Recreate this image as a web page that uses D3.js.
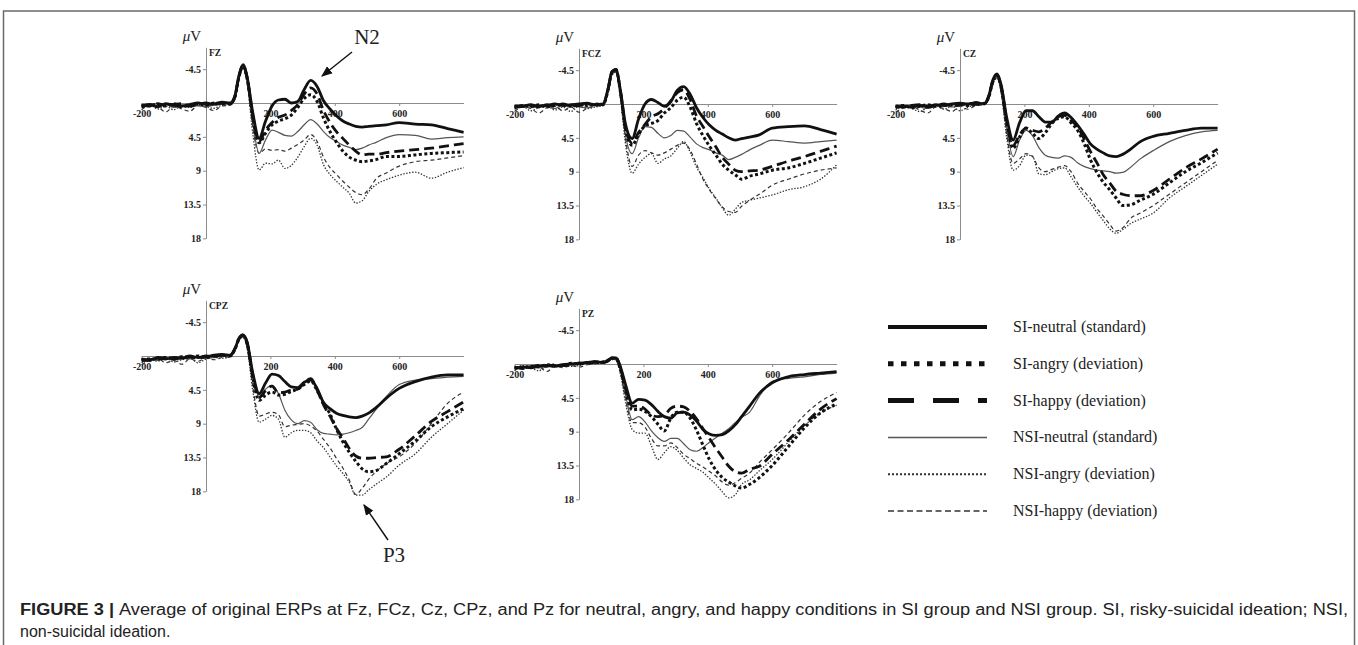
<!DOCTYPE html>
<meta charset="utf-8">
<title>ERP waveforms</title>
<style>
    body { margin: 0; background: #fff; }
    svg text { font-family: "Liberation Serif", "Times New Roman", serif; }
    .axis path, .axis line { stroke: #8c8c8c; stroke-width: 1px; }
    .axis text { font-weight: bold; font-size: 10px; fill: #222; }
    .erp { fill: none; stroke-linejoin: round; }
    .cap { font-family: "Liberation Sans", Arial, sans-serif; font-size: 16px; fill: #222; }
</style>
<script src="https://d3js.org/d3.v7.min.js"></script>
<body>
<script>
// sampling times (ms)
var times = [-200,-175,-150,-125,-100,-75,-50,-25,0,25,50,75,90,102,115,128,145,165,185,205,225,245,265,285,305,325,345,365,385,405,425,445,465,485,505,530,560,600,650,700,750,800];

var conditions = ["SI-neutral (standard)", "SI-angry (deviation)", "SI-happy (deviation)",
                  "NSI-neutral (standard)", "NSI-angry (deviation)", "NSI-happy (deviation)"];

var yTicks = [-4.5, 4.5, 9, 13.5, 18];
var xTicks = [-200, 200, 400, 600];

// amplitude in µV, one row per condition (same order as conditions)
var fzValues = [
    [0.4,0.2,0.5,0.1,0.3,0.4,0.2,0.0,0.2,0.1,-0.1,0.0, -1.0,-3.6,-5.1,-3.4,1.2,4.7,2.4,0.4,-0.4,-0.5,0.0,-0.2,-1.8,-3.0,-2.2,-0.3,0.8,1.7,2.4,2.8,3.1,3.2,3.1,3.0,2.9,2.6,2.8,2.9,3.4,3.9],
    [0.5,0.3,0.2,0.4,0.1,0.5,0.3,0.1,0.3,0.0,0.1,0.1, -0.8,-3.4,-4.9,-3.2,1.8,5.3,4.0,2.9,2.4,2.1,1.6,0.6,-0.6,-1.1,-0.2,2.0,3.8,5.2,6.4,7.2,7.6,7.8,7.7,7.5,7.1,7.1,6.9,6.7,6.6,6.5],
    [0.3,0.4,0.1,0.3,0.2,0.1,0.4,0.2,0.0,0.2,0.0,0.1, -0.9,-3.5,-5.0,-3.3,1.6,5.1,3.6,2.6,1.9,1.6,1.0,0.2,-1.2,-2.0,-1.2,1.0,2.6,3.8,4.7,5.6,6.4,6.9,6.8,6.8,6.6,6.4,6.2,6.0,5.7,5.4],
    [0.2,0.5,0.3,0.2,0.6,0.3,0.2,0.4,0.5,0.3,0.2,0.1, -0.7,-3.2,-4.8,-3.0,2.5,6.7,4.9,3.6,3.9,4.3,4.4,3.8,2.9,2.2,2.8,3.8,4.6,5.1,5.6,5.9,6.2,6.0,5.6,5.2,4.6,4.2,4.3,4.8,4.6,4.5],
    [0.6,0.2,0.8,0.4,0.9,0.3,0.6,0.2,0.5,0.7,0.3,0.2, -0.5,-3.0,-4.7,-2.6,4.0,8.9,8.0,8.1,7.6,8.7,8.3,7.2,5.8,4.7,5.6,8.2,9.5,10.4,11.2,12.0,13.3,13.0,11.8,10.8,10.2,9.6,9.2,10.0,9.2,8.6],
    [0.9,0.3,0.5,1.2,0.4,0.8,1.1,0.3,0.6,1.0,0.4,0.3, -0.6,-3.1,-4.7,-2.8,3.2,6.7,6.1,6.3,6.2,6.4,6.0,5.5,4.9,4.2,5.1,7.2,8.6,9.5,10.4,11.2,11.9,12.2,11.5,10.0,9.3,8.4,7.8,7.6,7.3,7.0]
];

var fczValues = [
    [0.4,0.3,0.1,0.3,0.2,0.0,0.2,0.1,0.0,-0.1,0.1,0.0, -2.0,-4.3,-4.6,-2.0,2.8,4.6,2.0,0.0,-0.6,-0.2,0.3,-0.3,-1.8,-2.3,-1.3,0.5,1.8,2.8,3.5,4.0,4.5,4.8,4.6,4.4,4.1,3.2,3.0,2.9,3.4,4.0],
    [0.5,0.2,0.3,0.1,0.4,0.2,0.1,0.3,0.1,0.2,0.0,0.1, -1.8,-4.1,-4.5,-1.8,3.5,5.5,4.0,2.9,2.6,2.2,1.2,0.5,-0.5,-0.9,0.4,2.6,4.2,5.6,6.8,8.0,8.8,9.4,10.0,9.6,9.3,8.8,8.5,7.9,7.2,6.5],
    [0.3,0.3,0.2,0.4,0.1,0.3,0.0,0.2,0.2,0.0,0.1,0.0, -1.9,-4.2,-4.6,-1.9,3.2,5.2,3.8,2.7,1.7,1.3,0.6,-0.4,-1.5,-1.9,-0.6,1.6,3.0,4.4,5.7,7.1,8.0,8.8,9.0,8.9,8.8,8.3,7.6,7.0,6.3,5.6],
    [0.2,0.4,0.5,0.2,0.3,0.6,0.2,0.3,0.4,0.5,0.2,0.1, -1.7,-4.0,-4.4,-1.5,4.3,6.6,4.5,3.0,3.1,3.9,4.5,4.2,3.5,3.6,4.4,5.3,5.8,6.1,6.5,6.8,7.4,7.1,6.7,6.1,5.5,4.8,5.0,5.2,5.0,4.8],
    [0.7,0.3,0.9,0.5,0.2,0.8,0.4,1.0,0.3,0.6,0.4,0.2, -1.5,-3.8,-4.2,-1.0,5.5,9.2,8.0,7.1,6.6,7.9,7.3,6.9,5.9,5.0,6.4,8.4,9.8,11.3,12.5,13.8,14.8,14.0,13.1,12.8,12.5,12.1,11.4,11.0,10.0,8.1],
    [1.0,0.4,0.6,1.2,0.5,0.3,0.9,0.4,1.1,0.6,0.3,0.2, -1.6,-3.9,-4.3,-1.2,4.8,8.3,6.8,6.2,6.5,6.8,6.5,6.0,5.5,5.2,6.1,8.0,10.0,11.4,12.6,13.7,14.3,14.4,13.6,12.8,12.0,10.8,10.0,9.3,8.8,8.5]
];

var czValues = [
    [0.5,0.3,0.4,0.2,0.3,0.1,0.2,0.0,-0.1,0.0,-0.2,0.0, -1.2,-3.2,-4.0,-2.5,1.8,4.8,2.5,0.9,0.9,1.7,2.4,2.4,1.6,1.2,1.8,2.8,4.0,5.3,6.0,6.5,6.9,7.0,6.7,6.0,5.0,4.3,3.9,3.5,3.2,3.2],
    [0.4,0.2,0.5,0.3,0.1,0.3,0.2,0.1,0.0,0.2,0.0,-0.1, -1.0,-3.0,-3.8,-2.2,2.5,5.9,4.4,3.2,3.9,4.6,3.8,2.6,1.9,1.7,2.5,3.5,5.2,7.4,9.1,10.4,11.4,12.5,13.5,13.4,12.8,12.0,10.5,9.0,7.8,6.5],
    [0.3,0.4,0.2,0.1,0.4,0.2,0.0,0.2,0.1,-0.1,0.0,0.0, -1.1,-3.1,-3.9,-2.3,2.2,5.5,4.1,3.2,3.5,3.7,3.2,2.4,1.7,1.5,2.2,3.0,4.6,6.3,7.8,9.4,10.5,11.6,12.0,12.2,12.2,11.5,10.0,8.5,7.3,6.0],
    [0.3,0.5,0.2,0.4,0.6,0.3,0.1,0.4,0.3,0.1,0.2,0.0, -0.9,-2.8,-3.7,-2.0,3.2,7.0,4.8,3.5,4.2,5.8,6.8,7.1,7.2,6.9,7.1,7.8,8.3,8.6,8.8,8.9,9.0,9.2,9.1,8.4,7.3,6.2,5.0,4.2,3.7,3.5],
    [0.8,0.3,0.6,1.0,0.4,0.2,0.7,0.3,0.9,0.4,0.1,0.0, -0.8,-2.6,-3.4,-1.4,4.5,8.8,8.2,6.8,6.9,9.3,9.4,9.0,8.6,8.5,9.7,11.0,12.2,13.2,14.4,15.5,16.6,17.2,16.7,15.9,15.3,14.5,12.5,11.0,9.5,8.0],
    [1.1,0.5,0.3,0.8,1.2,0.4,0.6,1.0,0.3,0.7,0.2,0.1, -0.8,-2.7,-3.5,-1.6,4.0,7.9,7.3,6.6,7.0,8.5,9.0,8.7,8.4,8.2,9.0,10.5,11.6,12.6,13.9,14.9,16.0,16.9,16.5,15.2,14.5,13.5,12.0,10.5,9.0,7.5]
];

var cpzValues = [
    [0.6,0.5,0.3,0.4,0.2,0.3,0.0,0.2,0.1,-0.1,-0.2,-0.1, -1.0,-2.3,-2.8,-1.8,2.2,5.0,3.6,2.4,2.6,3.4,4.1,4.2,3.5,3.2,4.3,6.2,7.0,7.6,7.9,8.1,8.2,8.0,7.6,6.8,5.6,4.3,3.4,2.8,2.5,2.5],
    [0.5,0.4,0.4,0.2,0.3,0.1,0.2,0.0,0.2,0.0,-0.1,0.0, -0.9,-2.2,-2.7,-1.6,2.8,5.9,5.2,4.8,5.2,5.1,4.7,4.4,3.8,3.3,4.6,6.3,7.7,9.7,11.4,12.8,14.0,15.0,15.4,15.2,14.3,13.0,11.3,9.4,8.1,7.0],
    [0.4,0.6,0.2,0.3,0.4,0.2,0.1,0.3,0.0,0.1,-0.1,-0.1, -1.0,-2.3,-2.8,-1.7,2.5,5.5,4.6,4.0,4.9,4.8,4.5,4.4,3.6,3.0,4.5,6.5,8.0,9.6,10.9,12.3,13.3,13.6,13.6,13.5,13.4,12.4,10.6,8.7,7.4,6.1],
    [0.3,0.4,0.6,0.2,0.5,0.3,0.4,0.1,0.3,0.2,0.0,-0.1, -0.9,-2.2,-2.7,-1.5,2.6,5.4,4.4,3.9,5.0,7.2,8.5,9.0,8.6,8.8,9.8,10.3,10.4,10.5,10.4,10.2,9.9,9.5,8.4,7.0,5.4,3.8,3.2,3.0,2.8,2.7],
    [0.9,0.4,0.7,0.2,0.8,0.5,0.3,0.9,0.4,0.2,0.3,0.1, -0.7,-2.0,-2.5,-1.0,4.5,8.8,8.4,7.9,8.4,10.8,10.2,9.9,9.9,10.2,11.3,12.2,13.4,14.6,15.6,16.8,18.5,18.5,17.8,17.0,16.1,14.5,13.0,10.8,9.0,7.2],
    [1.2,0.5,0.3,0.9,0.6,1.1,0.4,0.7,0.3,0.5,0.2,0.1, -0.8,-2.1,-2.6,-1.2,4.0,8.0,7.7,7.5,7.8,9.4,9.2,9.1,9.0,9.3,10.0,11.1,12.2,13.6,14.9,16.5,18.4,17.6,16.4,15.3,14.3,13.4,11.6,9.0,6.3,4.8]
];

var pzValues = [
    [0.6,0.4,0.5,0.3,0.2,0.3,0.1,0.0,-0.1,-0.2,-0.3,-0.2, -0.4,-0.8,-0.8,0.3,2.8,5.2,4.7,4.8,5.4,6.3,7.0,7.2,6.5,6.4,6.8,7.6,8.7,9.3,9.5,9.4,8.9,8.1,7.0,5.6,3.9,2.5,1.7,1.4,1.2,1.0],
    [0.5,0.5,0.3,0.4,0.1,0.2,0.2,-0.1,0.0,-0.2,-0.2,-0.3, -0.5,-0.8,-0.7,0.6,3.6,6.1,6.0,6.3,7.0,8.0,8.9,7.2,6.4,6.4,7.2,8.8,10.8,12.7,14.1,15.1,15.7,16.2,16.5,16.0,15.1,13.5,11.0,8.5,6.5,5.3],
    [0.4,0.6,0.4,0.2,0.3,0.1,0.2,0.1,-0.1,0.0,-0.3,-0.2, -0.5,-0.8,-0.8,0.4,3.2,5.6,5.6,6.0,6.8,7.0,6.8,5.9,5.6,5.7,6.3,7.3,8.6,9.9,11.2,12.4,13.6,14.3,14.5,14.0,13.6,12.0,10.1,8.0,6.0,4.6],
    [0.3,0.5,0.2,0.4,0.3,0.2,0.0,0.1,0.0,-0.1,-0.2,-0.2, -0.4,-0.7,-0.7,0.8,4.2,7.4,7.0,7.7,8.9,9.8,10.3,9.9,9.9,10.6,11.4,11.6,11.1,10.4,9.8,9.2,8.6,7.8,7.1,6.4,4.3,2.3,1.9,1.7,1.4,1.2],
    [0.7,0.2,0.5,0.9,0.3,0.4,0.1,0.3,0.2,-0.1,0.0,-0.2, -0.3,-0.6,-0.6,1.2,5.2,8.7,9.2,9.2,10.9,12.7,11.8,11.0,11.5,12.5,13.4,13.9,14.4,15.2,16.0,17.0,17.8,17.4,16.0,15.4,14.2,12.7,10.4,8.2,6.5,5.5],
    [0.9,0.3,0.6,0.4,1.0,0.3,0.5,0.2,0.4,0.1,-0.1,-0.1, -0.3,-0.7,-0.6,1.0,4.8,7.8,7.8,8.4,9.9,10.9,10.9,10.5,11.1,12.0,12.6,13.2,13.7,14.3,14.9,15.7,16.1,15.8,15.2,14.5,13.1,11.4,9.2,6.8,5.0,3.8]
];

// line looks: plot strokes and legend strokes
var looks = [
    {w: 2.8, dash: null,      col: "#111", lw: 4,   ldash: null},
    {w: 3,   dash: "3,2.5",   col: "#111", lw: 5,   ldash: "5.5,7.5"},
    {w: 2.8, dash: "10,5",    col: "#111", lw: 5,   ldash: "26,19"},
    {w: 1.2, dash: null,      col: "#555", lw: 1.5, ldash: null},
    {w: 1.3, dash: "1.4,1.6", col: "#333", lw: 2,   ldash: "2,2"},
    {w: 1.2, dash: "4,3",     col: "#333", lw: 1.5, ldash: "6,3.5"}
];

var svg = d3.select("body").append("svg")
    .attr("width", 1358)
    .attr("height", 645);

// frame
svg.append("rect")
    .attr("x", 3.5).attr("y", 11)
    .attr("width", 1351).attr("height", 660)
    .attr("fill", "none").attr("stroke", "#6a6a6a").attr("stroke-width", 1.5);

var panels = [
    {name: "FZ",  values: fzValues,  ox: 206, oy: 103},
    {name: "FCZ", values: fczValues, ox: 579, oy: 104},
    {name: "CZ",  values: czValues,  ox: 960, oy: 104},
    {name: "CPZ", values: cpzValues, ox: 206, oy: 356},
    {name: "PZ",  values: pzValues,  ox: 579, oy: 364}
];

var pxPerMs = 0.322, pxPerUv = 7.52;

panels.forEach(function(p) {
    var x = d3.scaleLinear().domain([-200, 800])
        .range([p.ox - 200 * pxPerMs, p.ox + 800 * pxPerMs]);
    var y = d3.scaleLinear().domain([-7.4, 18])
        .range([p.oy - 7.4 * pxPerUv, p.oy + 18 * pxPerUv]);

    var g = svg.append("g");

    // zero line with time labels
    g.append("g")
        .attr("class", "axis")
        .attr("transform", "translate(0," + y(0) + ")")
        .call(d3.axisBottom(x).tickValues(xTicks).tickSize(3).tickSizeOuter(0).tickPadding(4)
            .tickFormat(function(d) { return String(d); }));

    // amplitude axis at t = 0
    g.append("g")
        .attr("class", "axis")
        .attr("transform", "translate(" + x(0) + ",0)")
        .call(d3.axisLeft(y).tickValues(yTicks).tickSize(3).tickSizeOuter(0).tickPadding(2)
            .tickFormat(function(d) { return String(d); }));

    g.append("text")
        .attr("x", x(0) + 3).attr("y", y(-6.3))
        .attr("font-size", "9.5px").attr("font-weight", "bold").attr("fill", "#222")
        .text(p.name);

    var uv = g.append("text")
        .attr("x", x(0) - 14).attr("y", y(-8.3))
        .attr("text-anchor", "middle")
        .attr("font-size", "15px").attr("fill", "#222");
    uv.append("tspan").attr("font-style", "italic").text("\u03bc");
    uv.append("tspan").text("V");

    var line = d3.line()
        .curve(d3.curveMonotoneX)
        .x(function(d, i) { return x(times[i]); })
        .y(function(d) { return y(d); });

    // NSI traces underneath, SI traces on top
    [5, 4, 3, 2, 1, 0].forEach(function(k) {
        g.append("path")
            .attr("class", "erp")
            .attr("d", line(p.values[k]))
            .attr("stroke", looks[k].col)
            .attr("stroke-width", looks[k].w)
            .attr("stroke-dasharray", looks[k].dash);
    });
});

// legend
var ly = d3.scaleLinear().domain([0, 5]).range([327, 511]);
var legend = svg.append("g");
conditions.forEach(function(c, k) {
    legend.append("line")
        .attr("x1", 888).attr("x2", 987)
        .attr("y1", ly(k)).attr("y2", ly(k))
        .attr("stroke", looks[k].col)
        .attr("stroke-width", looks[k].lw)
        .attr("stroke-dasharray", looks[k].ldash);
    legend.append("text")
        .attr("x", 1013).attr("y", ly(k) + 5)
        .attr("font-size", "16px").attr("fill", "#222")
        .text(c);
});

// annotations
svg.append("defs").append("marker")
    .attr("id", "head").attr("viewBox", "0 0 10 10")
    .attr("refX", 9).attr("refY", 5)
    .attr("markerWidth", 8).attr("markerHeight", 8)
    .attr("orient", "auto")
    .append("path").attr("d", "M0,1L10,5L0,9z").attr("fill", "#111");

svg.append("text").attr("x", 367).attr("y", 44)
    .attr("text-anchor", "middle").attr("font-size", "21px").attr("fill", "#222").text("N2");
svg.append("line")
    .attr("x1", 352).attr("y1", 52).attr("x2", 322).attr("y2", 76)
    .attr("stroke", "#111").attr("stroke-width", 1.4).attr("marker-end", "url(#head)");

svg.append("text").attr("x", 394).attr("y", 562)
    .attr("text-anchor", "middle").attr("font-size", "21px").attr("fill", "#222").text("P3");
svg.append("line")
    .attr("x1", 388).attr("y1", 540).attr("x2", 364).attr("y2", 505)
    .attr("stroke", "#111").attr("stroke-width", 1.4).attr("marker-end", "url(#head)");

// caption
var cap1 = svg.append("text").attr("class", "cap")
    .attr("x", 20).attr("y", 615)
    .attr("textLength", 1328).attr("lengthAdjust", "spacingAndGlyphs");
cap1.append("tspan").attr("font-weight", "bold").text("FIGURE 3 | ");
cap1.append("tspan").text("Average of original ERPs at Fz, FCz, Cz, CPz, and Pz for neutral, angry, and happy conditions in SI group and NSI group. SI, risky-suicidal ideation; NSI,");
svg.append("text").attr("class", "cap")
    .attr("x", 20).attr("y", 637)
    .text("non-suicidal ideation.");
</script>
</body>
